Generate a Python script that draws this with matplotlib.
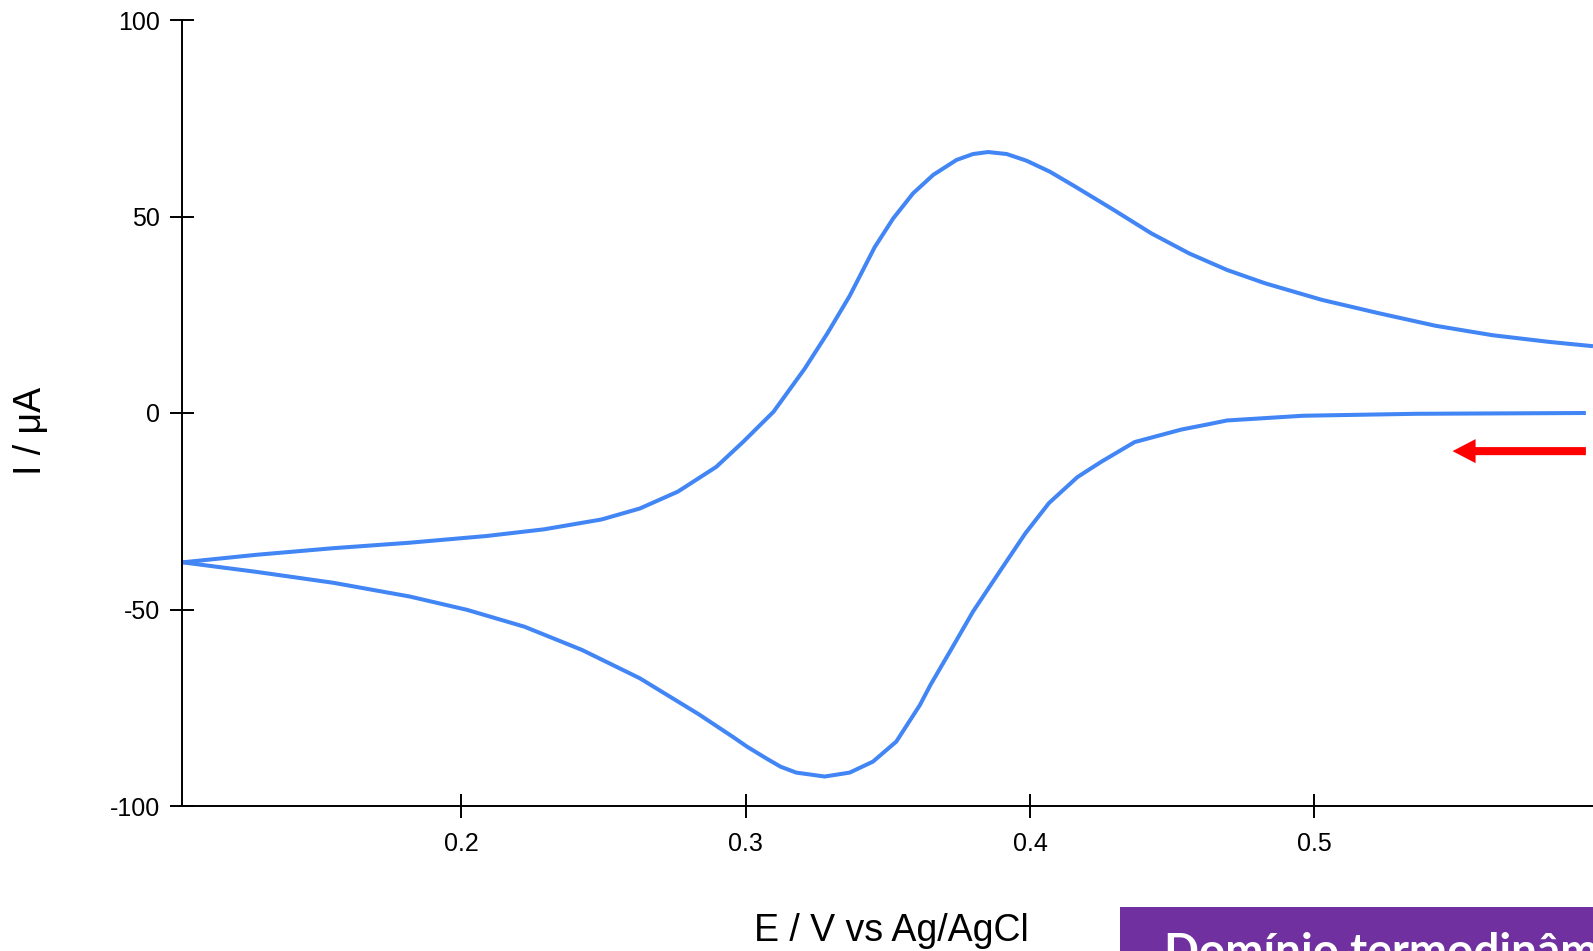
import matplotlib
matplotlib.use("Agg")
import matplotlib.pyplot as plt
from matplotlib.patches import Rectangle

plt.rcParams['axes.unicode_minus'] = False
plt.rcParams['font.family'] = ['Liberation Sans', 'DejaVu Sans']

# Forward (cathodic) scan: from 0.595 V down to 0.102 V
e_fwd = [0.5955, 0.5359, 0.4960, 0.4693, 0.4618, 0.4533, 0.4368, 0.4251, 0.4167,
         0.4067, 0.3984, 0.3892, 0.3800, 0.3725, 0.3650, 0.3613, 0.3530, 0.3448,
         0.3366, 0.3278, 0.3178, 0.3123, 0.3073, 0.3005, 0.2955, 0.2834, 0.2628,
         0.2425, 0.2223, 0.2021, 0.1819, 0.1550, 0.1277, 0.1020]
i_fwd = [0.0, -0.2, -0.7, -1.9, -3.0, -4.2, -7.4, -12.4, -16.3,
         -22.9, -30.6, -40.5, -50.5, -59.9, -69.2, -74.3, -83.6, -88.7,
         -91.5, -92.5, -91.5, -90.0, -87.9, -84.9, -82.4, -76.6, -67.5,
         -60.3, -54.4, -50.1, -46.7, -43.2, -40.4, -38.0]

# Reverse (anodic) scan: from 0.102 V up to 0.598 V
e_rev = [0.1020, 0.1277, 0.1550, 0.1819, 0.2089, 0.2291, 0.2493, 0.2628, 0.2762,
         0.2897, 0.2992, 0.3098, 0.3208, 0.3287, 0.3366, 0.3454, 0.3519, 0.3589,
         0.3660, 0.3742, 0.3800, 0.3853, 0.3918, 0.3988, 0.4070, 0.4157, 0.4294,
         0.4427, 0.4560, 0.4693, 0.4827, 0.5026, 0.5226, 0.5426, 0.5626, 0.5825,
         0.5980]
i_rev = [-38.0, -36.1, -34.4, -33.0, -31.3, -29.6, -27.1, -24.3, -20.0,
         -13.7, -7.3, 0.3, 11.3, 20.2, 29.8, 42.2, 49.5, 55.9,
         60.6, 64.4, 65.9, 66.4, 65.9, 64.2, 61.4, 57.7, 51.7,
         45.7, 40.6, 36.4, 33.0, 28.8, 25.4, 22.2, 19.8, 18.1,
         17.0]

x_ticks = [0.2, 0.3, 0.4, 0.5]
y_ticks = [-100, -50, 0, 50, 100]

W, H = 1593, 951
fig = plt.figure(figsize=(W / 100, H / 100), dpi=100)
ax = fig.add_axes([182 / W, 1 - 806 / H, 1 - 182 / W, (806 - 20) / H])

ax.plot(e_fwd, i_fwd, color='#4285F4', lw=2.9, solid_capstyle='butt',
        solid_joinstyle='round')
ax.plot(e_rev, i_rev, color='#4285F4', lw=2.9, solid_capstyle='butt',
        solid_joinstyle='round')

ax.set_xlim(0.1018, 0.598)
ax.set_ylim(-100, 100)
ax.set_xticks(x_ticks)
ax.set_xticklabels([f"{v:.1f}" for v in x_ticks])
ax.set_yticks(y_ticks)
ax.set_yticklabels([str(v) for v in y_ticks])

for s in ['top', 'right']:
    ax.spines[s].set_visible(False)
for s in ['left', 'bottom']:
    ax.spines[s].set_linewidth(1.4)
    ax.spines[s].set_color('black')

ax.tick_params(axis='both', direction='inout', length=17, width=1.4,
               labelsize=18, colors='black')
ax.tick_params(axis='x', pad=10)
ax.tick_params(axis='y', pad=7.5)

# red scan-direction arrow
ax.annotate('', xy=(0.5486, -9.7), xytext=(0.5955, -9.7),
            arrowprops=dict(arrowstyle='simple,head_length=1.66,head_width=1.73,tail_width=0.58',
                            mutation_scale=10, color='#FF0000', lw=0,
                            shrinkA=0, shrinkB=0))

fig.text(891 / W, 1 - 931 / H, 'E / V vs Ag/AgCl', ha='center', va='center',
         fontsize=27)
fig.text(31 / W, 1 - 431 / H, 'I / μA', ha='center', va='center', rotation=90,
         fontsize=27)

# purple banner (cropped at the figure edge)
fig.patches.append(Rectangle((1120 / W, 0), 1 - 1120 / W, (H - 907) / H,
                             transform=fig.transFigure, facecolor='#7030A0',
                             edgecolor='none', zorder=5))
fig.text(1164 / W, 1 - 966 / H, 'Domínio termodinâmico', ha='left', va='baseline',
         fontsize=33, fontweight='bold', color='white',
         family=['Lato', 'DejaVu Sans'], zorder=6)

fig.savefig('out.png', dpi=100)
